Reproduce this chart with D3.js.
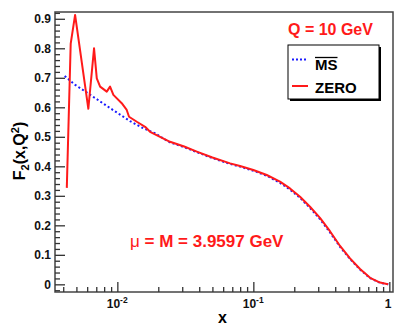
<!DOCTYPE html>
<html>
<head>
<meta charset="utf-8">
<script src="https://cdn.jsdelivr.net/npm/d3@7"></script>
<style>
  body { margin: 0; background: #fff; }
  svg { display: block; font-family: "Liberation Sans", Arial, Helvetica, sans-serif; font-weight: bold; }
</style>
</head>
<body>
<div id="container"></div>
<script>
// ---- data ----
var msX = [0.0041, 0.0049, 0.0061, 0.0090, 0.0124, 0.0155, 0.0189, 0.0244, 0.031, 0.0384, 0.05, 0.0675, 0.0798, 0.100, 0.1255, 0.157, 0.186, 0.2205, 0.261, 0.309, 0.366, 0.434, 0.514, 0.609, 0.722, 0.855, 0.957, 0.99];
var msF = [0.706, 0.676, 0.647, 0.595, 0.553, 0.529, 0.512, 0.481, 0.465, 0.448, 0.428, 0.408, 0.399, 0.385, 0.368, 0.344, 0.321, 0.293, 0.259, 0.221, 0.176, 0.127, 0.086, 0.050, 0.021, 0.005, 0.001, 0.0];

var zeroX = [0.00425, 0.00454, 0.00489, 0.00612, 0.00674, 0.00706, 0.00747, 0.00836, 0.00884, 0.00935, 0.01077, 0.01172, 0.01219, 0.0139, 0.016, 0.0174, 0.0244, 0.031, 0.0384, 0.05, 0.0675, 0.0798, 0.100, 0.1255, 0.157, 0.186, 0.2205, 0.261, 0.309, 0.366, 0.434, 0.514, 0.609, 0.722, 0.855, 0.957, 0.98];
var zeroF = [0.327, 0.816, 0.913, 0.595, 0.800, 0.698, 0.670, 0.653, 0.670, 0.642, 0.614, 0.591, 0.568, 0.551, 0.534, 0.517, 0.483, 0.467, 0.450, 0.430, 0.410, 0.401, 0.3875, 0.3705, 0.348, 0.325, 0.297, 0.263, 0.225, 0.180, 0.130, 0.088, 0.052, 0.022, 0.006, 0.001, 0.0];

var yMajor = [0, 0.1, 0.2, 0.3, 0.4, 0.5, 0.6, 0.7, 0.8, 0.9];
var yLabels = ["0", "0.1", "0.2", "0.3", "0.4", "0.5", "0.6", "0.7", "0.8", "0.9"];
var xMajor = [0.01, 0.1, 1];
var xLabelBase = ["10", "10", "1"];
var xLabelExp = ["-2", "-1", ""];

// ---- layout ----
const width = 403;
const height = 332;
const frame = {left: 55, right: 393, top: 12, bottom: 292};

const svg = d3.select("div#container").append("svg")
    .attr("width", width)
    .attr("height", height);

const xScale = d3.scaleLog().domain([0.00348, 1.064]).range([frame.left, frame.right]);
const yScale = d3.scaleLinear().domain([-0.026, 0.923]).range([frame.bottom, frame.top]);

// minor ticks
var yMinor = [];
for (var i = -1; i <= 46; i++) {
  var v = Math.round(i * 0.02 * 1000) / 1000;
  if (v >= -0.026 && v <= 0.923 && (i % 5 != 0)) yMinor.push(v);
}
var xMinor = [];
[0.001, 0.01, 0.1].forEach(function(d) {
  for (var k = 2; k <= 9; k++) {
    var v = d * k;
    if (v > 0.00348 && v < 1.064) xMinor.push(v);
  }
});

svg.append("defs").append("clipPath").attr("id", "clip")
  .append("rect")
    .attr("x", frame.left).attr("y", frame.top)
    .attr("width", frame.right - frame.left)
    .attr("height", frame.bottom - frame.top);

// frame
svg.append("rect")
    .attr("x", frame.left).attr("y", frame.top)
    .attr("width", frame.right - frame.left)
    .attr("height", frame.bottom - frame.top)
    .attr("fill", "none")
    .attr("stroke", "#444")
    .attr("stroke-width", 1.5);

//---------------------------AXES-----------------------------//
const yaxis = d3.axisLeft(yScale)
    .tickValues(yMajor)
    .tickSizeInner(-10)
    .tickSizeOuter(0)
    .tickPadding(4)
    .tickFormat(function(d, i) { return yLabels[i]; });

const yaxisMinor = d3.axisLeft(yScale)
    .tickValues(yMinor)
    .tickSizeInner(-5)
    .tickSizeOuter(0)
    .tickFormat("");

svg.append("g").attr("class", "yaxis")
    .attr("transform", "translate(" + frame.left + ",0)")
    .call(yaxis);
svg.append("g").attr("class", "yaxis")
    .attr("transform", "translate(" + frame.left + ",0)")
    .call(yaxisMinor);

const xaxis = d3.axisBottom(xScale)
    .tickValues(xMajor)
    .tickSizeInner(-10)
    .tickSizeOuter(0)
    .tickFormat("");

const xaxisMinor = d3.axisBottom(xScale)
    .tickValues(xMinor)
    .tickSizeInner(-5)
    .tickSizeOuter(0)
    .tickFormat("");

svg.append("g").attr("class", "xaxis")
    .attr("transform", "translate(0," + frame.bottom + ")")
    .call(xaxis);
svg.append("g").attr("class", "xaxis")
    .attr("transform", "translate(0," + frame.bottom + ")")
    .call(xaxisMinor);

svg.selectAll(".yaxis path, .xaxis path").remove();
svg.selectAll(".yaxis line, .xaxis line")
    .attr("stroke", "#333")
    .attr("stroke-width", 1.3);
svg.selectAll(".yaxis text")
    .attr("font-size", 12)
    .attr("font-family", "Liberation Sans, Arial, sans-serif")
    .attr("font-weight", "bold")
    .attr("fill", "#111");

// x tick labels with exponents
xMajor.forEach(function(d, i) {
  var t = svg.append("text")
      .attr("y", 308)
      .attr("font-size", 12)
      .attr("fill", "#111");
  t.append("tspan").text(xLabelBase[i]);
  if (xLabelExp[i] != "") {
    t.append("tspan").attr("font-size", 8.5).attr("dy", -5).text(xLabelExp[i]);
  }
  var w = t.node().getBBox().width;
  var cx = xScale(d);
  if (xLabelExp[i] == "") cx = cx - 1;
  t.attr("x", cx - w / 2);
});

// axis titles
svg.append("text")
    .attr("x", 222.5).attr("y", 323)
    .attr("text-anchor", "middle")
    .attr("font-size", 16)
    .text("x");

const ytitle = svg.append("text")
    .attr("transform", "translate(25,151) rotate(-90)")
    .attr("text-anchor", "middle")
    .attr("font-size", 16);
ytitle.append("tspan").text("F");
ytitle.append("tspan").attr("font-size", 11).attr("dy", 4).text("2");
ytitle.append("tspan").attr("dy", -4).text("(x,Q");
ytitle.append("tspan").attr("font-size", 11).attr("dy", -6).text("2");
ytitle.append("tspan").attr("dy", 6).text(")");

//---------------------------LINES-----------------------------//
const line = d3.line()
    .x(function(d) { return xScale(d[0]); })
    .y(function(d) { return yScale(d[1]); });

const plot = svg.append("g").attr("clip-path", "url(#clip)");

plot.append("path")
    .datum(msX.map(function(x, i) { return [x, msF[i]]; }))
    .attr("d", line)
    .attr("fill", "none")
    .attr("stroke", "#1a1aff")
    .attr("stroke-width", 2)
    .attr("stroke-dasharray", "2,2.4");

plot.append("path")
    .datum(zeroX.map(function(x, i) { return [x, zeroF[i]]; }))
    .attr("d", line)
    .attr("fill", "none")
    .attr("stroke", "#ff1a1a")
    .attr("stroke-width", 2)
    .attr("stroke-linejoin", "round");

//---------------------------LABELS-----------------------------//
svg.append("text")
    .attr("x", 288).attr("y", 34.5)
    .attr("font-size", 16)
    .attr("fill", "#ff1a1a")
    .text("Q = 10 GeV");

const mu = svg.append("text")
    .attr("x", 130).attr("y", 247)
    .attr("font-size", 17)
    .attr("fill", "#ff1a1a");
mu.append("tspan").attr("font-weight", "normal").text("\u03bc");
mu.append("tspan").text(" = M = 3.9597 GeV");

// legend
const legend = svg.append("g");
legend.append("rect")
    .attr("x", 290).attr("y", 47).attr("width", 91).attr("height", 54)
    .attr("fill", "#000");
legend.append("rect")
    .attr("x", 288).attr("y", 45).attr("width", 91).attr("height", 54)
    .attr("fill", "#fff").attr("stroke", "#000").attr("stroke-width", 1);

legend.append("line")
    .attr("x1", 292).attr("x2", 307).attr("y1", 59.5).attr("y2", 59.5)
    .attr("stroke", "#1a1aff").attr("stroke-width", 2)
    .attr("stroke-dasharray", "2,2");
legend.append("line")
    .attr("x1", 292).attr("x2", 308).attr("y1", 86).attr("y2", 86)
    .attr("stroke", "#ff1a1a").attr("stroke-width", 2);

const msText = legend.append("text")
    .attr("x", 315).attr("y", 70)
    .attr("font-size", 15)
    .text("MS");
const bb = msText.node().getBBox();
legend.append("line")
    .attr("x1", bb.x).attr("x2", bb.x + bb.width)
    .attr("y1", 57.5).attr("y2", 57.5)
    .attr("stroke", "#000").attr("stroke-width", 1.3);

legend.append("text")
    .attr("x", 315).attr("y", 92.5)
    .attr("font-size", 15)
    .text("ZERO");
</script>
</body>
</html>
